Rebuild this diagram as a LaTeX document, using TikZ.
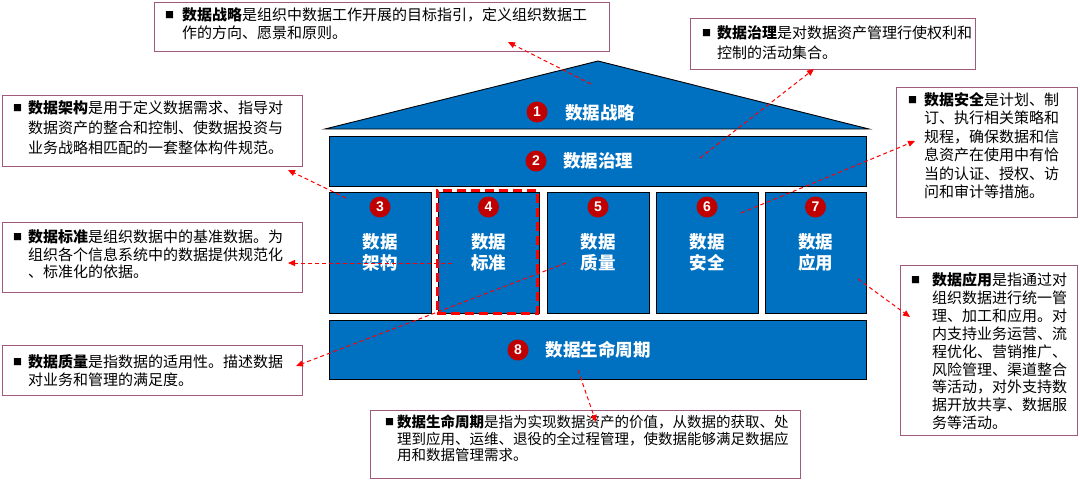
\documentclass[tikz,border=0pt]{standalone}
\usepackage{fontspec}
\setmainfont{Noto Sans CJK SC}
\newfontfamily\numfont{Liberation Sans}
\usetikzlibrary{arrows.meta}
\definecolor{dblue}{RGB}{0,112,192}
\definecolor{dred}{RGB}{192,0,0}
\definecolor{boxline}{RGB}{160,90,125}
\definecolor{arrred}{RGB}{255,0,0}
\begin{document}
\begin{tikzpicture}[x=1pt,y=-1pt,
  blueshape/.style={draw=black, line width=0.9pt, fill=dblue, rectangle, inner sep=0},
  numcirc/.style={circle, fill=dred, inner sep=0, minimum size=21pt, text=white, font=\numfont\bfseries\fontsize{14}{14}\selectfont},
  shapelabel/.style={text=white, font=\bfseries\fontsize{17.5}{21}\selectfont, align=center, inner sep=0},
  descbox/.style={draw=boxline, line width=1pt, fill=white, rectangle, inner sep=0},
  bulletmark/.style={anchor=west, inner sep=0, font=\fontsize{9}{9}\selectfont},
  desctext/.style={anchor=base west, inner sep=0, align=left},
  link/.style={draw=arrred, line width=1pt, dash pattern=on 4pt off 3pt, -{Triangle[length=7pt,width=6pt]}},
  focusbox/.style={draw=arrred, line width=3pt, dash pattern=on 9pt off 5pt, rectangle, inner sep=0},
]
\useasboundingbox (0,0) rectangle (1080,482);
\fill[white] (0,0) rectangle (1080,482);

% ---------- description boxes ----------
\node[descbox, minimum width=455pt, minimum height=49pt] (boxA) at (381.5,26.5) {};
\node[descbox, minimum width=285pt, minimum height=51pt] (boxB) at (832.5,43.5) {};
\node[descbox, minimum width=300pt, minimum height=71pt] (boxC) at (152,130.5) {};
\node[descbox, minimum width=181pt, minimum height=130pt] (boxD) at (986.5,152) {};
\node[descbox, minimum width=300pt, minimum height=70pt] (boxE) at (152,257) {};
\node[descbox, minimum width=177pt, minimum height=170pt] (boxF) at (988.5,350) {};
\node[descbox, minimum width=300pt, minimum height=50pt] (boxG) at (152,370) {};
\node[descbox, minimum width=430pt, minimum height=68pt] (boxH) at (585,444) {};

% text nodes: 'base' is the baseline of the last line
\node[bulletmark] (bA) at (165,15) {■};
\node[desctext, font=\fontsize{15}{18}\selectfont] (tA) at (182,38.5)
  {\textbf{数据战略}是组织中数据工作开展的目标指引，定义组织数据工\\作的方向、愿景和原则。};
\node[bulletmark] (bB) at (702,33) {■};
\node[desctext, font=\fontsize{15}{20}\selectfont] (tB) at (717,58.5)
  {\textbf{数据治理}是对数据资产管理行使权利和\\控制的活动集合。};
\node[bulletmark] (bC) at (13,108) {■};
\node[desctext, font=\fontsize{15}{20}\selectfont] (tC) at (28,153.5)
  {\textbf{数据架构}是用于定义数据需求、指导对\\数据资产的整合和控制、使数据投资与\\业务战略相匹配的一套整体构件规范。};
\node[bulletmark] (bD) at (908,100) {■};
\node[desctext, font=\fontsize{15}{18.4}\selectfont] (tD) at (924,197.5)
  {\textbf{数据安全}是计划、制\\订、执行相关策略和\\规程，确保数据和信\\息资产在使用中有恰\\当的认证、授权、访\\问和审计等措施。};
\node[bulletmark] (bE) at (13,237) {■};
\node[desctext, font=\fontsize{15}{17.5}\selectfont] (tE) at (28,277.5)
  {\textbf{数据标准}是组织数据中的基准数据。为\\组织各个信息系统中的数据提供规范化\\、标准化的依据。};
\node[bulletmark] (bF) at (911,280) {■};
\node[desctext, font=\fontsize{15}{17.9}\selectfont] (tF) at (932,428.7)
  {\textbf{数据应用}是指通过对\\组织数据进行统一管\\理、加工和应用。对\\内支持业务运营、流\\程优化、营销推广、\\风险管理、渠道整合\\等活动，对外支持数\\据开放共享、数据服\\务等活动。};
\node[bulletmark] (bG) at (13,362) {■};
\node[desctext, font=\fontsize{15}{18}\selectfont] (tG) at (28,385.5)
  {\textbf{数据质量}是指数据的适用性。描述数据\\对业务和管理的满足度。};
\node[bulletmark] (bH) at (385,422) {■};
\node[desctext, font=\fontsize{14.5}{16.5}\selectfont] (tH) at (397,460.5)
  {\textbf{数据生命周期}是指为实现数据资产的价值，从数据的获取、处\\理到应用、运维、退役的全过程管理，使数据能够满足数据应\\用和数据管理需求。};

% ---------- house ----------
\draw[draw=black, line width=0.9pt, fill=dblue] (325,129) -- (598,61) -- (869,129) -- cycle;
\node[numcirc] (n1) at (537,112) {1};
\node[shapelabel] (l1) at (600,113) {数据战略};

\node[blueshape, minimum width=537pt, minimum height=50pt] (gov) at (597.5,161) {};
\node[numcirc] (n2) at (536,161) {2};
\node[shapelabel] (l2) at (598,161) {数据治理};

\node[blueshape, minimum width=102pt, minimum height=121pt] (c3) at (380,252.5) {};
\node[blueshape, minimum width=101pt, minimum height=121pt] (c4) at (488.5,252.5) {};
\node[blueshape, minimum width=102pt, minimum height=121pt] (c5) at (598,252.5) {};
\node[blueshape, minimum width=102pt, minimum height=121pt] (c6) at (707,252.5) {};
\node[blueshape, minimum width=101pt, minimum height=121pt] (c7) at (815.5,252.5) {};
\foreach \nm/\cx/\num/\txt in {c3/380/3/架构, c4/488.5/4/标准, c5/598/5/质量, c6/707/6/安全, c7/815.5/7/应用}{
  \node[numcirc] (n\nm) at (\cx,207) {\num};
  \node[shapelabel] (l\nm) at (\cx,252.5) {数据\\\txt};
}
\node[focusbox, minimum width=100pt, minimum height=123pt] (focus) at (487,251.5) {};

\node[blueshape, minimum width=537pt, minimum height=59pt] (life) at (597.5,349.5) {};
\node[numcirc] (n8) at (518,350) {8};
\node[shapelabel] (l8) at (598,350) {数据生命周期};

% ---------- connectors ----------
\coordinate (s1) at (591,84);   \coordinate (e1) at (508,42);
\coordinate (s2) at (700,158);  \coordinate (e2) at (814,69);
\coordinate (s3) at (346,198);  \coordinate (e3) at (288,170);
\coordinate (s4) at (452,263);  \coordinate (e4) at (288,263);
\coordinate (s5) at (566,263);  \coordinate (e5) at (296,366);
\coordinate (s6) at (741,213);  \coordinate (e6) at (915,141);
\coordinate (s7) at (858,279);  \coordinate (e7) at (910,317);
\coordinate (s8) at (578,370);  \coordinate (e8) at (596,422);
\foreach \i in {1,...,8}{ \draw[link] (s\i) -- (e\i); }
\end{tikzpicture}
\end{document}
